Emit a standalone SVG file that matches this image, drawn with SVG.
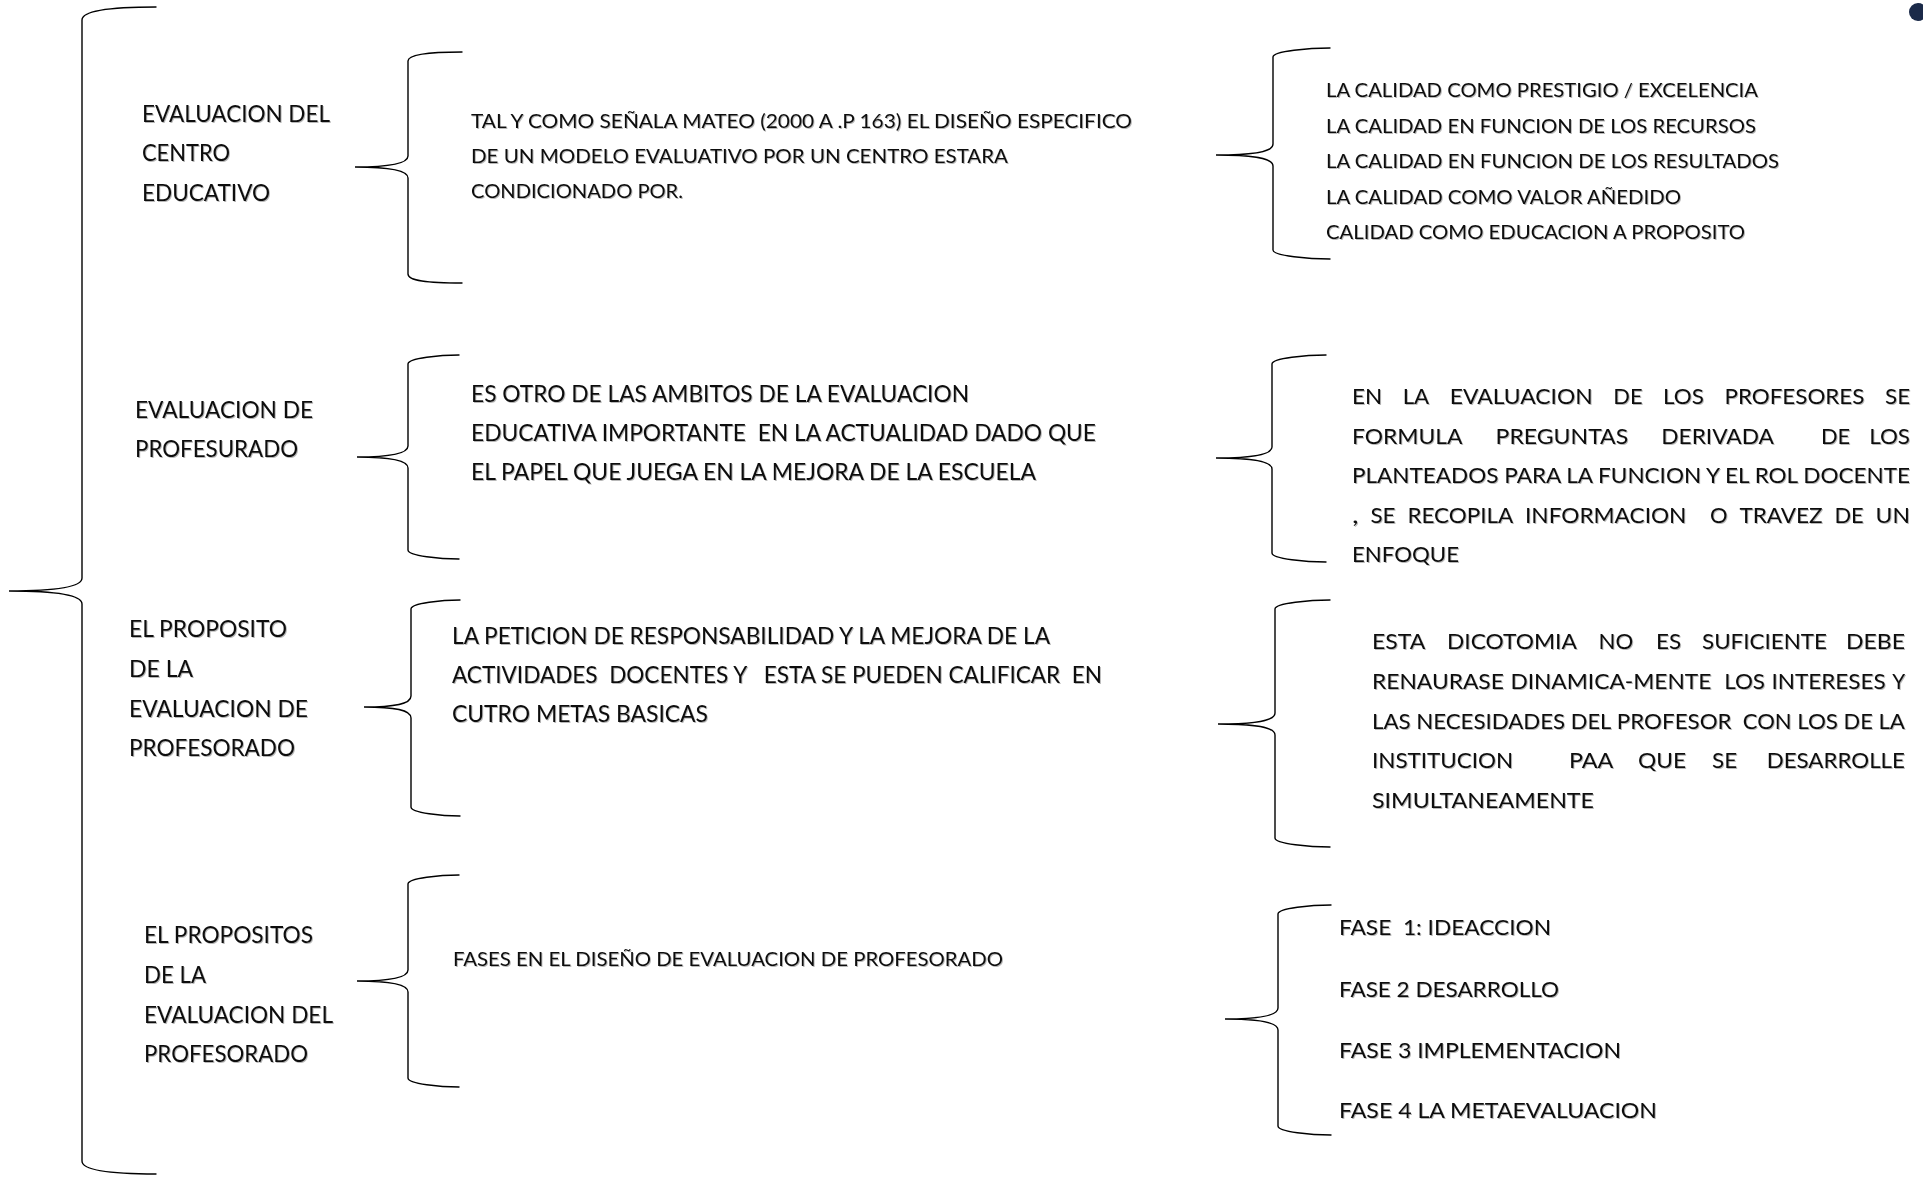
<svg xmlns="http://www.w3.org/2000/svg" width="1923" height="1177" viewBox="0 0 1923 1177">
<defs>
<filter id="sh" x="-5%" y="-20%" width="110%" height="140%">
<feDropShadow dx="1" dy="1" stdDeviation="0.7" flood-color="#000" flood-opacity="0.28"/>
</filter>
<style>
text{font-family:Lato,"Open Sans","Liberation Sans",sans-serif;fill:#111;filter:url(#sh)}
.l{font-size:23px}
.m1{font-size:18.5px}
.r1{font-size:20px}
.m2{font-size:22.5px}
.r2{font-size:22px}
.m4{font-size:19.5px}
.br{fill:none;stroke:#000;stroke-width:1.4;stroke-linecap:round}
</style>
</defs>
<rect width="1923" height="1177" fill="#fff"/>
<circle cx="1918" cy="12" r="9" fill="#1b2a49"/>

<g id="connectors">
<path class="br" d="M156,7 C108,7 82,11.5 82,20 L82,578 C82,587 56,591 9,591 C56,591 82,595 82,604 L82,1161 C82,1169.5 108,1174 156,1174"/>
<path class="br" d="M462,52 C427,52 408,55 408,61 L408,156 C408,163.7 389,167 355,167 C389,167 408,170.3 408,178 L408,274 C408,280.9 427,283 462,283"/>
<path class="br" d="M459,355 C441,355 408,358 408,364 L408,446 C408,454 390,457 357,457 C390,457 408,460 408,468 L408,550 C408,556 441,559 459,559"/>
<path class="br" d="M460,600 C443,600 411,603 411,609 L411,696 C411,704 395,707 364,707 C395,707 411,710 411,718 L411,807 C411,813 443,816 460,816"/>
<path class="br" d="M459,875 C441,875 408,878 408,884 L408,970 C408,978 390,981 357,981 C390,981 408,984 408,992 L408,1078 C408,1084 441,1087 459,1087"/>
<path class="br" d="M1330,48 C1310,48 1273,51 1273,57 L1273,144 C1273,152 1253,155 1216,155 C1253,155 1273,158 1273,166 L1273,250 C1273,256 1310,259 1330,259"/>
<path class="br" d="M1326,355 C1307,355 1272,358 1272,364 L1272,447 C1272,455 1252,458 1216,458 C1252,458 1272,461 1272,469 L1272,553 C1272,559 1307,562 1326,562"/>
<path class="br" d="M1330,600 C1311,600 1275,603 1275,609 L1275,713 C1275,721 1255,724 1218,724 C1255,724 1275,727 1275,735 L1275,838 C1275,844 1311,847 1330,847"/>
<path class="br" d="M1331,905 C1312,905 1278,908 1278,914 L1278,1008 C1278,1016 1259,1019 1225,1019 C1259,1019 1278,1022 1278,1030 L1278,1126 C1278,1132 1312,1135 1331,1135"/>
</g>

<g id="n-centro">
<text class="l" x="142" y="122" textLength="188" lengthAdjust="spacingAndGlyphs">EVALUACION DEL</text>
<text class="l" x="142" y="161" textLength="88" lengthAdjust="spacingAndGlyphs">CENTRO</text>
<text class="l" x="142" y="201" textLength="128" lengthAdjust="spacingAndGlyphs">EDUCATIVO</text>
</g>
<g id="n-mateo">
<text class="m1" x="471" y="128" textLength="661" lengthAdjust="spacingAndGlyphs">TAL Y COMO SEÑALA MATEO (2000 A .P 163) EL DISEÑO ESPECIFICO</text>
<text class="m1" x="471" y="163" textLength="537" lengthAdjust="spacingAndGlyphs">DE UN MODELO EVALUATIVO POR UN CENTRO ESTARA</text>
<text class="m1" x="471" y="198" textLength="212" lengthAdjust="spacingAndGlyphs">CONDICIONADO POR.</text>
</g>
<g id="n-calidad">
<text class="r1" x="1326" y="97" textLength="432" lengthAdjust="spacingAndGlyphs">LA CALIDAD COMO PRESTIGIO / EXCELENCIA</text>
<text class="r1" x="1326" y="132.5" textLength="430" lengthAdjust="spacingAndGlyphs">LA CALIDAD EN FUNCION DE LOS RECURSOS</text>
<text class="r1" x="1326" y="168" textLength="453" lengthAdjust="spacingAndGlyphs">LA CALIDAD EN FUNCION DE LOS RESULTADOS</text>
<text class="r1" x="1326" y="203.5" textLength="355" lengthAdjust="spacingAndGlyphs">LA CALIDAD COMO VALOR AÑEDIDO</text>
<text class="r1" x="1326" y="239" textLength="419" lengthAdjust="spacingAndGlyphs">CALIDAD COMO EDUCACION A PROPOSITO</text>
</g>

<g id="n-profesurado">
<text class="l" x="135" y="418" textLength="178" lengthAdjust="spacingAndGlyphs">EVALUACION DE</text>
<text class="l" x="135" y="457" textLength="163" lengthAdjust="spacingAndGlyphs">PROFESURADO</text>
</g>
<g id="n-ambitos">
<text class="m2" x="471" y="402" textLength="498" lengthAdjust="spacingAndGlyphs">ES OTRO DE LAS AMBITOS DE LA EVALUACION</text>
<text class="m2" x="471" y="441" textLength="625" lengthAdjust="spacingAndGlyphs" xml:space="preserve">EDUCATIVA IMPORTANTE  EN LA ACTUALIDAD DADO QUE</text>
<text class="m2" x="471" y="480" textLength="565" lengthAdjust="spacingAndGlyphs">EL PAPEL QUE JUEGA EN LA MEJORA DE LA ESCUELA</text>
</g>
<g id="n-profesores" class="r2">
<text class="r2" x="1352" y="404" textLength="30.1" lengthAdjust="spacingAndGlyphs">EN</text>
<text class="r2" x="1402.7" y="404" textLength="26.5" lengthAdjust="spacingAndGlyphs">LA</text>
<text class="r2" x="1449.8" y="404" textLength="142.9" lengthAdjust="spacingAndGlyphs">EVALUACION</text>
<text class="r2" x="1613.3" y="404" textLength="29.2" lengthAdjust="spacingAndGlyphs">DE</text>
<text class="r2" x="1663.1" y="404" textLength="40.8" lengthAdjust="spacingAndGlyphs">LOS</text>
<text class="r2" x="1724.5" y="404" textLength="139.9" lengthAdjust="spacingAndGlyphs">PROFESORES</text>
<text class="r2" x="1885" y="404" textLength="25.1" lengthAdjust="spacingAndGlyphs">SE</text>
<text class="r2" x="1352" y="444" textLength="110.5" lengthAdjust="spacingAndGlyphs">FORMULA</text>
<text class="r2" x="1495.6" y="444" textLength="132.6" lengthAdjust="spacingAndGlyphs">PREGUNTAS</text>
<text class="r2" x="1661.3" y="444" textLength="112.6" lengthAdjust="spacingAndGlyphs">DERIVADA</text>
<text class="r2" x="1821" y="444" textLength="29.2" lengthAdjust="spacingAndGlyphs">DE</text>
<text class="r2" x="1869.2" y="444" textLength="40.8" lengthAdjust="spacingAndGlyphs">LOS</text>
<text class="r2" x="1352" y="483" textLength="558" lengthAdjust="spacingAndGlyphs">PLANTEADOS PARA LA FUNCION Y EL ROL DOCENTE</text>
<text class="r2" x="1352" y="523" textLength="6.6" lengthAdjust="spacingAndGlyphs">,</text>
<text class="r2" x="1370.4" y="523" textLength="25.1" lengthAdjust="spacingAndGlyphs">SE</text>
<text class="r2" x="1407.4" y="523" textLength="105.8" lengthAdjust="spacingAndGlyphs">RECOPILA</text>
<text class="r2" x="1525" y="523" textLength="161.4" lengthAdjust="spacingAndGlyphs">INFORMACION</text>
<text class="r2" x="1710.1" y="523" textLength="17.5" lengthAdjust="spacingAndGlyphs">O</text>
<text class="r2" x="1739.4" y="523" textLength="83.3" lengthAdjust="spacingAndGlyphs">TRAVEZ</text>
<text class="r2" x="1834.5" y="523" textLength="29.2" lengthAdjust="spacingAndGlyphs">DE</text>
<text class="r2" x="1875.6" y="523" textLength="34.4" lengthAdjust="spacingAndGlyphs">UN</text>
<text class="r2" x="1352" y="562" textLength="107" lengthAdjust="spacingAndGlyphs">ENFOQUE</text>
</g>

<g id="n-proposito">
<text class="l" x="129" y="637" textLength="158" lengthAdjust="spacingAndGlyphs">EL PROPOSITO</text>
<text class="l" x="129" y="677" textLength="64" lengthAdjust="spacingAndGlyphs">DE LA</text>
<text class="l" x="129" y="717" textLength="179" lengthAdjust="spacingAndGlyphs">EVALUACION DE</text>
<text class="l" x="129" y="756" textLength="166" lengthAdjust="spacingAndGlyphs">PROFESORADO</text>
</g>
<g id="n-peticion">
<text class="m2" x="452" y="644" textLength="598" lengthAdjust="spacingAndGlyphs">LA PETICION DE RESPONSABILIDAD Y LA MEJORA DE LA</text>
<text class="m2" x="452" y="683" textLength="650" lengthAdjust="spacingAndGlyphs" xml:space="preserve">ACTIVIDADES  DOCENTES Y   ESTA SE PUEDEN CALIFICAR  EN</text>
<text class="m2" x="452" y="722" textLength="256" lengthAdjust="spacingAndGlyphs">CUTRO METAS BASICAS</text>
</g>
<g id="n-dicotomia">
<text class="r2" x="1372" y="649" textLength="53.3" lengthAdjust="spacingAndGlyphs">ESTA</text>
<text class="r2" x="1447" y="649" textLength="129.8" lengthAdjust="spacingAndGlyphs">DICOTOMIA</text>
<text class="r2" x="1598.5" y="649" textLength="34.7" lengthAdjust="spacingAndGlyphs">NO</text>
<text class="r2" x="1656" y="649" textLength="25.1" lengthAdjust="spacingAndGlyphs">ES</text>
<text class="r2" x="1702" y="649" textLength="125" lengthAdjust="spacingAndGlyphs">SUFICIENTE</text>
<text class="r2" x="1846" y="649" textLength="59" lengthAdjust="spacingAndGlyphs">DEBE</text>
<text class="r2" x="1372" y="689" textLength="131.9" lengthAdjust="spacingAndGlyphs">RENAURASE</text>
<text class="r2" x="1510.4" y="689" textLength="200.9" lengthAdjust="spacingAndGlyphs">DINAMICA-MENTE</text>
<text class="r2" x="1724.2" y="689" textLength="40.8" lengthAdjust="spacingAndGlyphs">LOS</text>
<text class="r2" x="1771.5" y="689" textLength="114.2" lengthAdjust="spacingAndGlyphs">INTERESES</text>
<text class="r2" x="1892.2" y="689" textLength="12.9" lengthAdjust="spacingAndGlyphs">Y</text>
<text class="r2" x="1372" y="729" textLength="38.6" lengthAdjust="spacingAndGlyphs">LAS</text>
<text class="r2" x="1416.2" y="729" textLength="149" lengthAdjust="spacingAndGlyphs">NECESIDADES</text>
<text class="r2" x="1570.8" y="729" textLength="40.4" lengthAdjust="spacingAndGlyphs">DEL</text>
<text class="r2" x="1616.8" y="729" textLength="114.8" lengthAdjust="spacingAndGlyphs">PROFESOR</text>
<text class="r2" x="1742.8" y="729" textLength="48.8" lengthAdjust="spacingAndGlyphs">CON</text>
<text class="r2" x="1797.2" y="729" textLength="40.8" lengthAdjust="spacingAndGlyphs">LOS</text>
<text class="r2" x="1843.6" y="729" textLength="29.2" lengthAdjust="spacingAndGlyphs">DE</text>
<text class="r2" x="1878.4" y="729" textLength="26.5" lengthAdjust="spacingAndGlyphs">LA</text>
<text class="r2" x="1372" y="768" textLength="141.2" lengthAdjust="spacingAndGlyphs">INSTITUCION</text>
<text class="r2" x="1569" y="768" textLength="44.4" lengthAdjust="spacingAndGlyphs">PAA</text>
<text class="r2" x="1638" y="768" textLength="48.1" lengthAdjust="spacingAndGlyphs">QUE</text>
<text class="r2" x="1712" y="768" textLength="25.1" lengthAdjust="spacingAndGlyphs">SE</text>
<text class="r2" x="1766.7" y="768" textLength="138.3" lengthAdjust="spacingAndGlyphs">DESARROLLE</text>
<text class="r2" x="1372" y="808" textLength="222" lengthAdjust="spacingAndGlyphs">SIMULTANEAMENTE</text>
</g>

<g id="n-propositos">
<text class="l" x="144" y="943" textLength="169" lengthAdjust="spacingAndGlyphs">EL PROPOSITOS</text>
<text class="l" x="144" y="983" textLength="62" lengthAdjust="spacingAndGlyphs">DE LA</text>
<text class="l" x="144" y="1023" textLength="189" lengthAdjust="spacingAndGlyphs">EVALUACION DEL</text>
<text class="l" x="144" y="1062" textLength="164" lengthAdjust="spacingAndGlyphs">PROFESORADO</text>
</g>
<g id="n-fases-diseno">
<text class="m4" x="453" y="966" textLength="550" lengthAdjust="spacingAndGlyphs">FASES EN EL DISEÑO DE EVALUACION DE PROFESORADO</text>
</g>
<g id="n-fases">
<text class="r2" x="1339" y="935" textLength="212" lengthAdjust="spacingAndGlyphs" xml:space="preserve">FASE  1: IDEACCION</text>
<text class="r2" x="1339" y="997" textLength="220" lengthAdjust="spacingAndGlyphs">FASE 2 DESARROLLO</text>
<text class="r2" x="1339" y="1058" textLength="282" lengthAdjust="spacingAndGlyphs">FASE 3 IMPLEMENTACION</text>
<text class="r2" x="1339" y="1118" textLength="318" lengthAdjust="spacingAndGlyphs">FASE 4 LA METAEVALUACION</text>
</g>
</svg>
